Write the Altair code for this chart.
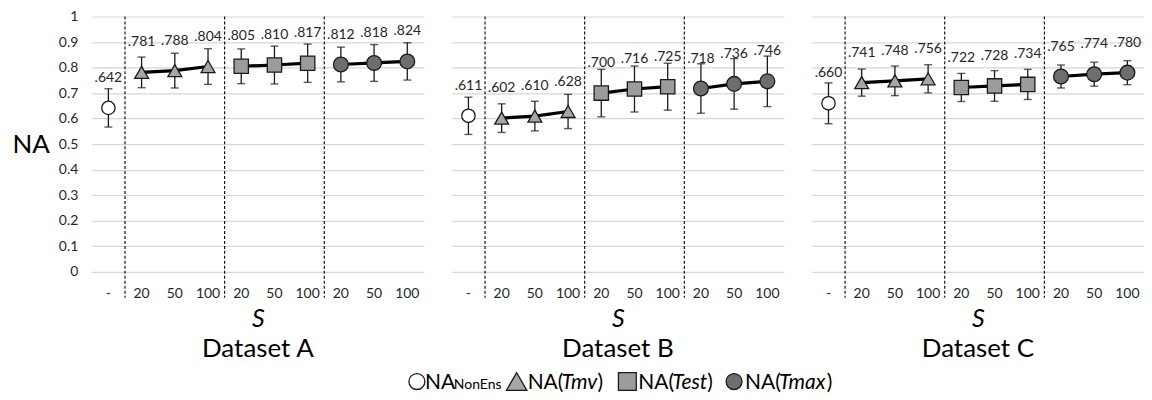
import altair as alt
import pandas as pd

FONT = "Lato"

datasets = ["Dataset A", "Dataset B", "Dataset C"]
s_labels = ["-", "20", "50", "100", "20", "50", "100", "20", "50", "100"]
groups = ["NonEns", "Tmv", "Tmv", "Tmv", "Test", "Test", "Test", "Tmax", "Tmax", "Tmax"]

na_a = [0.642, 0.781, 0.788, 0.804, 0.805, 0.810, 0.817, 0.812, 0.818, 0.824]
err_a = [0.075, 0.060, 0.068, 0.070, 0.068, 0.074, 0.075, 0.068, 0.072, 0.073]
na_b = [0.611, 0.602, 0.610, 0.628, 0.700, 0.716, 0.725, 0.718, 0.736, 0.746]
err_b = [0.073, 0.056, 0.058, 0.067, 0.093, 0.090, 0.092, 0.097, 0.099, 0.099]
na_c = [0.660, 0.741, 0.748, 0.756, 0.722, 0.728, 0.734, 0.765, 0.774, 0.780]
err_c = [0.080, 0.053, 0.058, 0.055, 0.055, 0.060, 0.059, 0.045, 0.047, 0.047]

group_order = ["NonEns", "Tmv", "Test", "Tmax"]
group_fill = ["white", "#a6a6a6", "#9c9c9c", "#6e6e6e"]
group_shape = ["circle", "triangle-up", "square", "circle"]
group_size = [180, 220, 150, 180]

y_ticks = [0, 0.1, 0.2, 0.3, 0.4, 0.5, 0.6, 0.7, 0.8, 0.9, 1.0]

prefix = {"NonEns": "n", "Tmv": "v", "Test": "e", "Tmax": "x"}
keys = [prefix[g] + s for g, s in zip(groups, s_labels)]
boundaries = [keys[1], keys[4], keys[7]]

W, H = 333, 256
INK = "#1a1a1a"
GRID = "#d6d6d6"

xscale = alt.Scale(domain=keys, paddingInner=0, paddingOuter=0)
yscale = alt.Scale(domain=[0, 1])


def panel(name, vals, errs, first):
    df = pd.DataFrame({"key": keys, "group": groups, "idx": list(range(len(keys))),
                       "na": vals, "err": errs})
    df["lo"] = df["na"] - df["err"]
    df["hi"] = df["na"] + df["err"]
    df["label"] = [("%.3f" % v)[1:] for v in vals]

    xaxis = alt.Axis(title="S", labelExpr="substring(datum.label, 1)", labelAngle=0,
                     ticks=False, domain=False, grid=False, labelPadding=15,
                     labelFontSize=14, labelColor="#262626", labelFont=FONT,
                     titleFont=FONT, titleFontSize=25, titleFontStyle="italic",
                     titleFontWeight="normal", titlePadding=6, titleColor="black")
    if first:
        yaxis = alt.Axis(values=y_ticks, format=".1~f", title="NA", titleAngle=0,
                         titleAlign="left", titleBaseline="middle", titleX=-80, titleY=128,
                         titleFontSize=26, titleFontWeight="normal", titleFont=FONT,
                         titleColor="black", labelFont=FONT, labelFontSize=14,
                         labelColor="#262626", labelPadding=14, ticks=False, domain=False,
                         gridColor=GRID, gridWidth=1.2)
    else:
        yaxis = alt.Axis(values=y_ticks, labels=False, title=None, ticks=False,
                         domain=False, gridColor=GRID, gridWidth=1.2)

    X = alt.X("key:N", scale=xscale, sort=keys, axis=xaxis)

    def Y(field):
        return alt.Y(field + ":Q", scale=yscale, axis=yaxis)

    base = alt.Chart(df)

    dashed = alt.Chart(pd.DataFrame({"key": boundaries})).mark_rule(
        color="black", strokeDash=[3, 2], strokeWidth=1.1, clip=False
    ).encode(x=alt.X("key:N", scale=xscale, sort=keys, axis=xaxis, bandPosition=0),
             y=alt.value(0), y2=alt.value(H + 26))

    bars = base.mark_rule(color=INK, strokeWidth=1.3).encode(x=X, y=Y("lo"), y2="hi:Q")
    cap_lo = base.mark_tick(color=INK, size=8, thickness=1.4).encode(x=X, y=Y("lo"))
    cap_hi = base.mark_tick(color=INK, size=8, thickness=1.4).encode(x=X, y=Y("hi"))

    line = alt.Chart(df[df["group"] != "NonEns"]).mark_line(
        color="black", strokeWidth=3.2
    ).encode(x=X, y=Y("na"), detail="group:N", order="idx:Q")

    pts = base.mark_point(filled=True, stroke=INK, strokeWidth=1.3, opacity=1).encode(
        x=X, y=Y("na"),
        shape=alt.Shape("group:N", scale=alt.Scale(domain=group_order, range=group_shape), legend=None),
        fill=alt.Fill("group:N", scale=alt.Scale(domain=group_order, range=group_fill), legend=None),
        size=alt.Size("group:N", scale=alt.Scale(domain=group_order, range=group_size), legend=None),
    )

    labels = base.mark_text(dy=-30, fontSize=14, font=FONT, color="#262626").encode(
        x=X, y=Y("na"), text="label:N")

    return alt.layer(dashed, bars, cap_lo, cap_hi, line, pts, labels).properties(
        width=W, height=H,
        title=alt.TitleParams(name, orient="bottom", fontSize=26, font=FONT,
                              fontWeight="normal", color="black", offset=4),
    )


panels = alt.hconcat(
    panel(datasets[0], na_a, err_a, True),
    panel(datasets[1], na_b, err_b, False),
    panel(datasets[2], na_c, err_c, False),
    spacing=28,
)

# legend (drawn by hand, to allow italic and small parts)
legend_main = ["NA", "NA(", "NA(", "NA("]
legend_mid = ["NonEns", "Tmv", "Test", "Tmax"]
legend_end = ["", ")", ")", ")"]

one = pd.DataFrame({"k": [0]})
LY = 13
LB = 20
LF = 21


def lsym(i, x, size):
    return alt.Chart(one).mark_point(shape=group_shape[i], filled=True, fill=group_fill[i],
                                     stroke=INK, strokeWidth=1.3, size=size, opacity=1).encode(
        x=alt.value(x), y=alt.value(LY))


def ltxt(text, x, size=LF, italic=False):
    return alt.Chart(pd.DataFrame({"t": [text]})).mark_text(
        align="left", baseline="alphabetic", font=FONT, fontSize=size,
        fontStyle="italic" if italic else "normal", color="black").encode(
        x=alt.value(x), y=alt.value(LB), text="t:N")


leg_layers = [
    lsym(0, 326, 256), ltxt(legend_main[0], 334), ltxt(legend_mid[0], 363, size=14),
    lsym(1, 426, 420), ltxt(legend_main[1], 437), ltxt(legend_mid[1], 471, italic=True), ltxt(legend_end[1], 507),
    lsym(2, 537, 320), ltxt(legend_main[2], 548), ltxt(legend_mid[2], 582, italic=True), ltxt(legend_end[2], 617),
    lsym(3, 644, 256), ltxt(legend_main[3], 655), ltxt(legend_mid[3], 689, italic=True), ltxt(legend_end[3], 737),
]
legend = alt.layer(*leg_layers).properties(width=900, height=26)

chart = alt.vconcat(panels, legend, spacing=7).properties(
    padding={"left": 4, "top": 1, "right": 0, "bottom": 2}
).configure_view(strokeWidth=0).configure_concat(spacing=28)

chart.save("out.html", embed_options={"renderer": "svg", "actions": False})
